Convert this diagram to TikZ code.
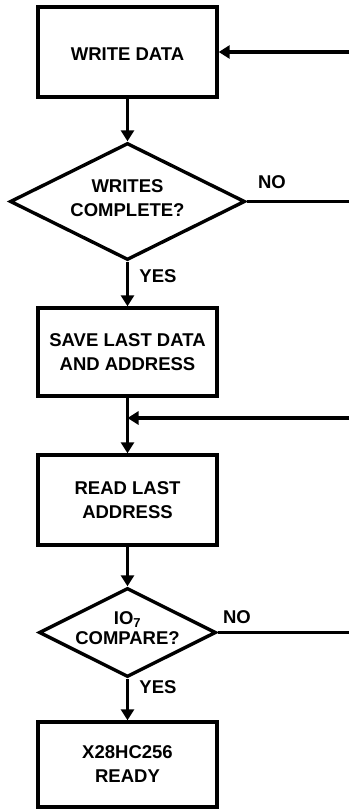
\documentclass[tikz,border=0pt]{standalone}
\usepackage{fontspec}
\setmainfont{Liberation Sans}
\usetikzlibrary{arrows.meta,shapes.geometric}
\tikzset{
  every picture/.style={line width=3.4bp},
  txt/.style={font=\fontsize{18.5bp}{24bp}\selectfont\bfseries, align=center, inner sep=0},
  procbox/.style={draw, rectangle, minimum width=179bp, inner sep=0},
  decbox/.style={draw, diamond, inner sep=0},
  lbl/.style={font=\fontsize{18.5bp}{22bp}\selectfont\bfseries, inner sep=0},
  arr/.style={-{Triangle[length=11bp,width=13bp]}},
}
\begin{document}
\begin{tikzpicture}[x=1bp,y=-1bp]
\useasboundingbox (0,0) rectangle (349,809);
% process boxes
\node[procbox, minimum height=90bp] (b1) at (127.5,52) {};
\node[txt] (t1) at (127.5,54) {WRITE DATA};
\node[decbox, minimum width=235bp, minimum height=117bp] (d1) at (127.5,201.5) {};
\node[txt] (t2) at (127.5,198) {WRITES\\COMPLETE?};
\node[procbox, minimum height=88bp] (b2) at (127.5,352) {};
\node[txt] (t3) at (b2) {SAVE LAST DATA\\AND ADDRESS};
\node[procbox, minimum height=90bp] (b3) at (127.5,500) {};
\node[txt] (t4) at (b3) {READ LAST\\ADDRESS};
\node[decbox, minimum width=177bp, minimum height=89bp] (d2) at (127.5,632.5) {};
\node[txt, font=\fontsize{18.5bp}{20bp}\selectfont\bfseries] (t5) at (127.5,628) {IO\textsubscript{7}\\COMPARE?};
\node[procbox, minimum height=85bp] (b4) at (127.5,764.5) {};
\node[txt] (t6) at (b4) {X28HC256\\READY};
% labels
\node[lbl] (no1) at (272,182) {NO};
\node[lbl] (yes1) at (158,276) {YES};
\node[lbl] (no2) at (237,617) {NO};
\node[lbl] (yes2) at (158,687) {YES};
% right edge coordinates
\coordinate (r1) at (349,52);
\coordinate (r2) at (349,201.5);
\coordinate (r3) at (349,418);
\coordinate (r4) at (349,632.5);
\coordinate (j) at (127.5,418);
% connectors
\draw[arr] (b1.south) -- (d1.north);
\draw[arr] (d1.south) -- (b2.north);
\draw[arr] (b2.south) -- (b3.north);
\draw[arr] (b3.south) -- (d2.north);
\draw[arr] (d2.south) -- (b4.north);
\draw (d1.east) -- (r2);
\draw (d2.east) -- (r4);
\draw[arr] (r1) -- (b1.east);
\draw[arr] (r3) -- (j);
\end{tikzpicture}
\end{document}
